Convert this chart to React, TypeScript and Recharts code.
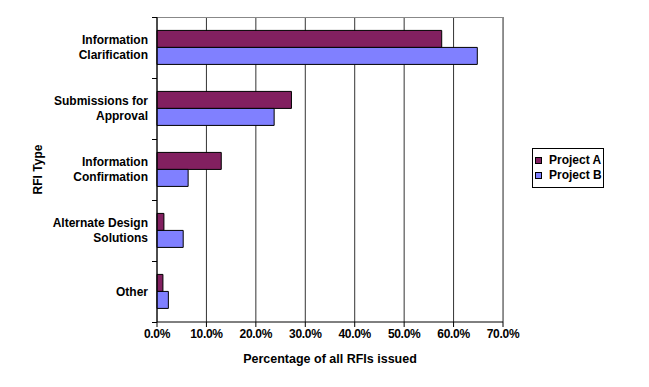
import React from "react";
import {
  BarChart, Bar, XAxis, YAxis, CartesianGrid, Label, usePlotArea,
} from "recharts";

// RFI categories, top to bottom (second line of label after "|")
const categories = [
  "Information|Clarification",
  "Submissions for|Approval",
  "Information|Confirmation",
  "Alternate Design|Solutions",
  "Other",
];
const projectA = [57.6, 27.2, 13.0, 1.4, 1.2];
const projectB = [64.8, 23.7, 6.3, 5.3, 2.3];
const xTicks = [0, 10, 20, 30, 40, 50, 60, 70];

const COLOR_A = "#822060";
const COLOR_B = "#8080FF";
const FONT = "'Liberation Sans', Arial, sans-serif";

const data = categories.map((c, i) => ({ name: c, a: projectA[i], b: projectB[i] }));

function CategoryTick(props: any) {
  const { x, y, payload, index } = props;
  const plot = usePlotArea();
  const lines = String(payload.value).split("|");
  const lh = 15;
  const y0 = y - ((lines.length - 1) * lh) / 2;
  // tick marks on the band boundaries
  const half = plot ? plot.height / categories.length / 2 : 0;
  const ax = plot ? plot.x : x + 8;
  return (
    <g>
      {plot && (
        <line x1={ax - 5} x2={ax} y1={Math.round(y - half) + 0.5} y2={Math.round(y - half) + 0.5} stroke="#000" />
      )}
      {plot && index === categories.length - 1 && (
        <line x1={ax - 5} x2={ax} y1={Math.round(y + half) + 0.5} y2={Math.round(y + half) + 0.5} stroke="#000" />
      )}
      <text
        x={x - 1} y={y0} textAnchor="end" dominantBaseline="central"
        fontFamily={FONT} fontSize={12} fontWeight={700} fill="#000"
      >
        {lines.map((l, i) => (
          <tspan key={i} x={x - 1} y={y0 + i * lh}>{l}</tspan>
        ))}
      </text>
    </g>
  );
}

function PctTick(props: any) {
  const { x, y, payload } = props;
  return (
    <text
      x={x} y={y + 9} textAnchor="middle"
      fontFamily={FONT} fontSize={12} fontWeight={700} fill="#000" letterSpacing={-0.3}
    >
      {`${Number(payload.value).toFixed(1)}%`}
    </text>
  );
}

function YTitle(props: any) {
  const vb = props.viewBox || { x: 0, y: 17, width: 157, height: 305 };
  const cx = 38;
  const cy = vb.y + vb.height / 2;
  return (
    <text
      x={cx} y={cy} textAnchor="middle" dominantBaseline="central"
      transform={`rotate(-90 ${cx} ${cy})`}
      fontFamily={FONT} fontSize={12} fontWeight={700} fill="#000"
    >
      RFI Type
    </text>
  );
}

function LegendBox() {
  const items = [
    { name: "Project A", color: COLOR_A },
    { name: "Project B", color: COLOR_B },
  ];
  return (
    <div
      style={{
        position: "absolute", left: 532, top: 148, width: 70, height: 38,
        border: "1px solid #000", background: "#fff", fontFamily: FONT,
        fontSize: 12, fontWeight: 700, boxSizing: "content-box",
      }}
    >
      {items.map((it, i) => (
        <div
          key={it.name}
          style={{ position: "absolute", left: 2, top: 4 + i * 15, display: "flex", alignItems: "center", lineHeight: "14px", whiteSpace: "nowrap" }}
        >
          <span
            style={{ display: "inline-block", width: 5, height: 5, background: it.color, border: "1px solid #000", marginRight: 7 }}
          />
          {it.name}
        </div>
      ))}
    </div>
  );
}

export default function App() {
  return (
    <div style={{ position: "absolute", left: 0, top: 0, width: 649, height: 387, background: "#fff" }}>
      <BarChart
        width={649}
        height={387}
        data={data}
        layout="vertical"
        margin={{ top: 16, right: 145, bottom: 20, left: 0 }}
        barCategoryGap="22%"
        barGap={0}
      >
        <CartesianGrid horizontal={false} stroke="#333" />
        <XAxis
          type="number"
          domain={[0, 70]}
          ticks={xTicks}
          interval={0}
          height={45}
          tickSize={5}
          axisLine={{ stroke: "#000" }}
          tickLine={{ stroke: "#000" }}
          tick={<PctTick />}
        >
          <Label
            value="Percentage of all RFIs issued"
            position="insideBottom"
            offset={4}
            style={{ fontFamily: FONT, fontSize: 12.5, fontWeight: 700, fill: "#000" }}
          />
        </XAxis>
        {/* grey frame on top and right of the plot area */}
        <XAxis
          xAxisId="top"
          type="number"
          orientation="top"
          domain={[0, 70]}
          height={1}
          tick={false}
          tickLine={false}
          axisLine={{ stroke: "#888", shapeRendering: "crispEdges" }}
        />
        <YAxis
          type="category"
          dataKey="name"
          width={157}
          tickLine={false}
          axisLine={{ stroke: "#000" }}
          tick={<CategoryTick />}
          interval={0}
        >
          <Label content={<YTitle />} />
        </YAxis>
        <YAxis
          yAxisId="right"
          type="category"
          dataKey="name"
          orientation="right"
          width={1}
          tick={false}
          tickLine={false}
          axisLine={{ stroke: "#888", shapeRendering: "crispEdges" }}
        />
        <Bar dataKey="a" name="Project A" fill={COLOR_A} stroke="#000" strokeWidth={1} isAnimationActive={false} />
        <Bar dataKey="b" name="Project B" fill={COLOR_B} stroke="#000" strokeWidth={1} isAnimationActive={false} />
      </BarChart>
      <LegendBox />
    </div>
  );
}
